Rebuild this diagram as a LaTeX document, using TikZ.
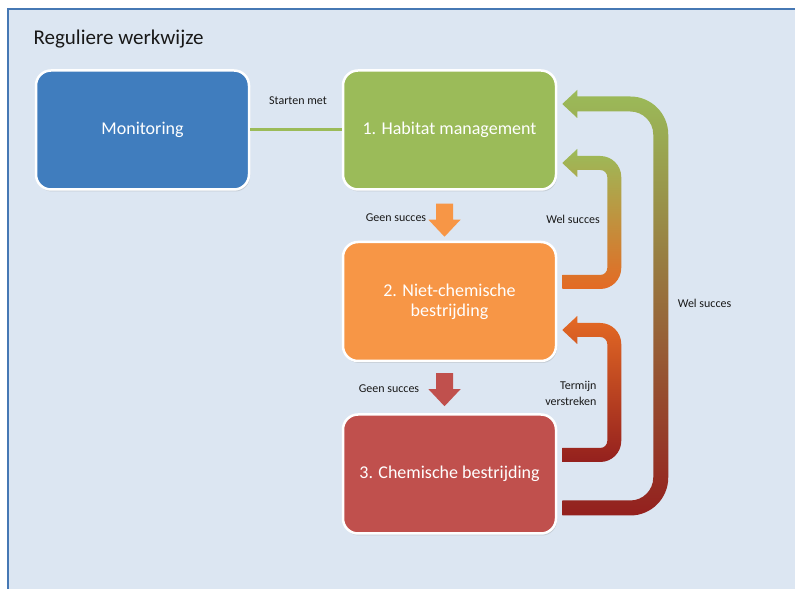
\documentclass[tikz,border=0pt]{standalone}
\usepackage{fontspec}
\setmainfont{Carlito}
\usetikzlibrary{calc,shadows}

\definecolor{framefill}{RGB}{220,230,242}
\definecolor{frameline}{RGB}{70,120,180}
\definecolor{monblue}{RGB}{64,125,190}
\definecolor{habgreen}{RGB}{155,187,89}
\definecolor{nietorange}{RGB}{247,150,70}
\definecolor{chemred}{RGB}{192,80,77}
\definecolor{backorange}{RGB}{228,106,36}
\definecolor{backred}{RGB}{148,32,30}
\definecolor{backolive}{RGB}{148,128,62}
\definecolor{labeltext}{RGB}{25,25,25}

\begin{document}
\begin{tikzpicture}[
    x=1pt,
    y=1pt,
    stepbox/.style={
        draw=white,
        fill=#1,
        line width=2.5pt,
        rounded corners=15pt,
        minimum width=213pt,
        minimum height=119pt,
        text=white,
        align=center,
        font=\fontsize{18}{20}\selectfont,
        drop shadow={shadow xshift=1pt, shadow yshift=-2pt, opacity=0.25}
    },
    lbl/.style={text=labeltext, font=\fontsize{12}{15}\selectfont},
    downarrow/.style={fill=#1},
    linkline/.style={draw=habgreen, line width=3pt}
]

\path[use as bounding box] (0,0) rectangle (795,589);
\clip (0,0) rectangle (795,589);

% Panel background.
\draw[frameline, fill=framefill, line width=1.5pt] (8,580) rectangle (820,-20);
\node[anchor=base west, text=labeltext, font=\fontsize{21}{24}\selectfont]
    (title) at (30,544) {Reguliere werkwijze};

% The four steps.
\node[stepbox=monblue] (mon) at (142.5,459) {Monitoring};
\node[stepbox=habgreen] (hab) at (449.5,459) {1. Habitat management};
\node[stepbox=nietorange] (niet) at (449.5,287.5) {2. Niet-chemische\\bestrijding};
\node[stepbox=chemred] (chem) at (449.5,115) {3. Chemische bestrijding};

% Start line.
\draw[linkline] (mon.east) -- (hab.west);
\node[lbl] (startlbl) at (298,488) {Starten met};

% Downward block arrows.
\fill[downarrow=nietorange] ($(hab.south)+(-13.5,-13)$) -- ++(17,0) -- ++(0,-16)
    -- ++(7.5,0) -- ++(-16,-17) -- ++(-16,17) -- ++(7.5,0) -- cycle;
\node[lbl] (geenone) at (396,371) {Geen succes};
\fill[downarrow=chemred] ($(niet.south)+(-13.5,-11)$) -- ++(17,0) -- ++(0,-16)
    -- ++(7.5,0) -- ++(-16,-17) -- ++(-16,17) -- ++(7.5,0) -- cycle;
\node[lbl] (geentwo) at (389,200) {Geen succes};

% Feedback arrows back to earlier steps.
\shade[top color=habgreen, bottom color=backorange]
    ($(niet.east)+(5,12.5)$) -- ++(38,0)
    arc[start angle=-90, end angle=0, radius=21] -- ++(0,91)
    arc[start angle=0, end angle=90, radius=21] -- ++(-23,0)
    -- ++(0,7) -- ++(-15,-14) -- ++(15,-14) -- ++(0,7) -- ++(23,0)
    arc[start angle=90, end angle=0, radius=7] -- ++(0,-91)
    arc[start angle=0, end angle=-90, radius=7] -- ++(-38,0) -- cycle;
\node[lbl] (welone) at (573,370) {Wel succes};

\shade[top color=backorange, bottom color=backred]
    ($(chem.east)+(5,12)$) -- ++(38,0)
    arc[start angle=-90, end angle=0, radius=21] -- ++(0,97)
    arc[start angle=0, end angle=90, radius=21] -- ++(-23,0)
    -- ++(0,7) -- ++(-15,-14) -- ++(15,-14) -- ++(0,7) -- ++(23,0)
    arc[start angle=90, end angle=0, radius=7] -- ++(0,-97)
    arc[start angle=0, end angle=-90, radius=7] -- ++(-38,0) -- cycle;
\node[lbl, anchor=east, align=right, font=\fontsize{12}{16}\selectfont]
    (termijn) at (600,196) {Termijn\\verstreken};

\shade[top color=habgreen, middle color=backolive, bottom color=backred]
    ($(chem.east)+(5,-41.5)$) -- ++(68,0)
    arc[start angle=-90, end angle=0, radius=38] -- ++(0,343)
    arc[start angle=0, end angle=90, radius=38] -- ++(-53,0)
    -- ++(0,6.5) -- ++(-15,-14) -- ++(15,-14) -- ++(0,6.5) -- ++(53,0)
    arc[start angle=90, end angle=0, radius=23] -- ++(0,-343)
    arc[start angle=0, end angle=-90, radius=23] -- ++(-68,0) -- cycle;
\node[lbl] (weltwo) at (704.5,286) {Wel succes};

\end{tikzpicture}
\end{document}
